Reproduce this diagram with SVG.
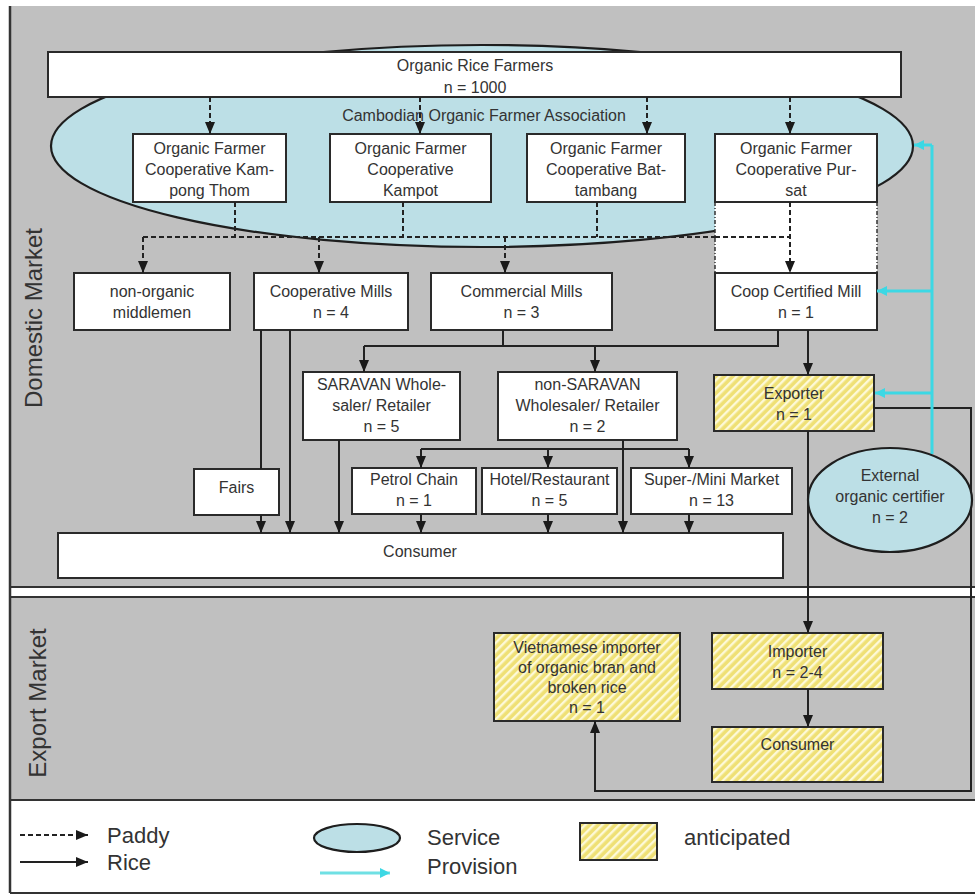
<svg xmlns="http://www.w3.org/2000/svg" width="978" height="895" viewBox="0 0 978 895">
<style>
.bg{fill:#c0c0c0}
.box{fill:#fff;stroke:#2a2a2a;stroke-width:2}
.hat{fill:url(#hatch);stroke:#2a2a2a;stroke-width:2}
.ell{fill:#bcdfe6;stroke:#1e1e1e;stroke-width:2.2}
.t{font-family:"Liberation Sans",Arial,sans-serif;font-size:16px;fill:#333;text-anchor:middle}
.lg{font-family:"Liberation Sans",Arial,sans-serif;font-size:22px;fill:#333}
.side{font-family:"Liberation Sans",Arial,sans-serif;font-size:24px;fill:#333;text-anchor:middle}
.dash{stroke:#222;stroke-width:2;stroke-dasharray:5 3;fill:none}
.sol{stroke:#222;stroke-width:2;fill:none}
.cy{stroke:#3cd8e4;stroke-width:3;fill:none}
.dl{stroke:#333;stroke-width:2;fill:none}
</style>
<defs>
<marker id="ah" viewBox="0 0 10 10" refX="10" refY="5" markerUnits="userSpaceOnUse" markerWidth="12" markerHeight="10" orient="auto" preserveAspectRatio="none">
<path d="M0,0 L10,5 L0,10 z" fill="#1a1a1a"/>
</marker>
<marker id="ach" viewBox="0 0 10 10" refX="10" refY="5" markerUnits="userSpaceOnUse" markerWidth="10" markerHeight="10" orient="auto" preserveAspectRatio="none">
<path d="M0,0 L10,5 L0,10 z" fill="#3cd8e4"/>
</marker>
<pattern id="hatch" patternUnits="userSpaceOnUse" width="6" height="6" patternTransform="rotate(45)">
<rect width="6" height="6" fill="#efe075"/>
<rect width="2.4" height="6" fill="#fdf9d8"/>
</pattern>
</defs>

<g id="background">
<rect class="bg" x="10" y="6" width="965" height="581"/>
<rect x="10" y="588" width="965" height="9" fill="#fff"/>
<rect class="bg" x="10" y="597" width="965" height="203"/>
<rect x="10" y="800" width="965" height="93" fill="#fff"/>
<line class="dl" x1="10" y1="587" x2="975" y2="587"/>
<line class="dl" x1="10" y1="597" x2="975" y2="597"/>
<line class="dl" x1="10" y1="800" x2="975" y2="800"/>
<line class="dl" x1="10" y1="893" x2="975" y2="893"/>
<line x1="10" y1="6" x2="10" y2="893" stroke="#333" stroke-width="2.5"/>
<text class="side" transform="translate(42,318) rotate(-90)">Domestic Market</text>
<text class="side" transform="translate(46,703) rotate(-90)">Export Market</text>
</g>

<g id="association">
<ellipse class="ell" cx="482" cy="146" rx="431" ry="101"/>
<text class="t" x="484" y="121">Cambodian Organic Farmer Association</text>
</g>

<g id="pursat-area">
<rect x="715" y="202" width="162" height="71" fill="#fff"/>
<line x1="715" y1="202" x2="715" y2="273" stroke="#333" stroke-width="1.5" stroke-dasharray="4 2 1 2"/>
<line x1="877" y1="202" x2="877" y2="273" stroke="#333" stroke-width="1.5" stroke-dasharray="4 2 1 2"/>
</g>

<g id="farmers">
<rect class="box" x="48" y="52" width="853" height="45"/>
<text class="t" x="475" y="71">Organic Rice Farmers</text>
<text class="t" x="475" y="93">n = 1000</text>
</g>

<g id="coop-kampongthom">
<rect class="box" x="133" y="134" width="153" height="68"/>
<text class="t" x="209.5" y="154">Organic Farmer</text>
<text class="t" x="209.5" y="175">Cooperative Kam-</text>
<text class="t" x="209.5" y="196">pong Thom</text>
</g>
<g id="coop-kampot">
<rect class="box" x="330" y="134" width="161" height="68"/>
<text class="t" x="410.5" y="154">Organic Farmer</text>
<text class="t" x="410.5" y="175">Cooperative</text>
<text class="t" x="410.5" y="196">Kampot</text>
</g>
<g id="coop-battambang">
<rect class="box" x="527" y="134" width="158" height="68"/>
<text class="t" x="606" y="154">Organic Farmer</text>
<text class="t" x="606" y="175">Cooperative Bat-</text>
<text class="t" x="606" y="196">tambang</text>
</g>
<g id="coop-pursat">
<rect class="box" x="715" y="134" width="162" height="68"/>
<text class="t" x="796" y="154">Organic Farmer</text>
<text class="t" x="796" y="175">Cooperative Pur-</text>
<text class="t" x="796" y="196">sat</text>
</g>

<g id="middlemen">
<rect class="box" x="74" y="273" width="156" height="57"/>
<text class="t" x="152" y="297">non-organic</text>
<text class="t" x="152" y="318">middlemen</text>
</g>
<g id="coop-mills">
<rect class="box" x="254" y="273" width="154" height="57"/>
<text class="t" x="331" y="297">Cooperative Mills</text>
<text class="t" x="331" y="318">n = 4</text>
</g>
<g id="commercial-mills">
<rect class="box" x="431" y="273" width="181" height="57"/>
<text class="t" x="521.5" y="297">Commercial Mills</text>
<text class="t" x="521.5" y="318">n = 3</text>
</g>
<g id="certified-mill">
<rect class="box" x="715" y="273" width="162" height="57"/>
<text class="t" x="796" y="297">Coop Certified Mill</text>
<text class="t" x="796" y="318">n = 1</text>
</g>

<g id="saravan">
<rect class="box" x="303" y="372" width="157" height="68"/>
<text class="t" x="381.5" y="390">SARAVAN Whole-</text>
<text class="t" x="381.5" y="411">saler/ Retailer</text>
<text class="t" x="381.5" y="432">n = 5</text>
</g>
<g id="non-saravan">
<rect class="box" x="498" y="372" width="179" height="68"/>
<text class="t" x="587.5" y="390">non-SARAVAN</text>
<text class="t" x="587.5" y="411">Wholesaler/ Retailer</text>
<text class="t" x="587.5" y="432">n = 2</text>
</g>
<g id="exporter">
<rect class="hat" x="714" y="375" width="160" height="56"/>
<text class="t" x="794" y="399">Exporter</text>
<text class="t" x="794" y="420">n = 1</text>
</g>

<g id="fairs">
<rect class="box" x="194" y="469" width="85" height="46"/>
<text class="t" x="236.5" y="493">Fairs</text>
</g>
<g id="petrol">
<rect class="box" x="352" y="468" width="124" height="46"/>
<text class="t" x="414" y="485">Petrol Chain</text>
<text class="t" x="414" y="506">n = 1</text>
</g>
<g id="hotel">
<rect class="box" x="482" y="468" width="135" height="46"/>
<text class="t" x="549.5" y="485">Hotel/Restaurant</text>
<text class="t" x="549.5" y="506">n = 5</text>
</g>
<g id="market">
<rect class="box" x="631" y="468" width="161" height="46"/>
<text class="t" x="711.5" y="485">Super-/Mini Market</text>
<text class="t" x="711.5" y="506">n = 13</text>
</g>

<g id="consumer-domestic">
<rect class="box" x="58" y="533" width="725" height="45"/>
<text class="t" x="420" y="557">Consumer</text>
</g>

<g id="vietnamese-importer">
<rect class="hat" x="494" y="633" width="186" height="88"/>
<text class="t" x="587" y="653">Vietnamese importer</text>
<text class="t" x="587" y="673">of organic bran and</text>
<text class="t" x="587" y="693">broken rice</text>
<text class="t" x="587" y="713">n = 1</text>
</g>
<g id="importer">
<rect class="hat" x="712" y="633" width="171" height="56"/>
<text class="t" x="797.5" y="657">Importer</text>
<text class="t" x="797.5" y="678">n = 2-4</text>
</g>
<g id="consumer-export">
<rect class="hat" x="712" y="727" width="171" height="55"/>
<text class="t" x="797.5" y="750">Consumer</text>
</g>

<g id="connectors">
<line class="dash" x1="210" y1="97" x2="210" y2="134" marker-end="url(#ah)"/>
<line class="dash" x1="420" y1="97" x2="420" y2="134" marker-end="url(#ah)"/>
<line class="dash" x1="647" y1="97" x2="647" y2="134" marker-end="url(#ah)"/>
<line class="dash" x1="790" y1="97" x2="790" y2="134" marker-end="url(#ah)"/>
<line class="dash" x1="235" y1="202" x2="235" y2="237"/>
<line class="dash" x1="403" y1="202" x2="403" y2="237"/>
<line class="dash" x1="597" y1="202" x2="597" y2="237"/>
<line class="dash" x1="143" y1="237" x2="715" y2="237"/>
<line class="dash" x1="715" y1="237" x2="790" y2="237"/>
<line class="dash" x1="143" y1="237" x2="143" y2="273" marker-end="url(#ah)"/>
<line class="dash" x1="319" y1="237" x2="319" y2="273" marker-end="url(#ah)"/>
<line class="dash" x1="505" y1="237" x2="505" y2="273" marker-end="url(#ah)"/>
<line class="dash" x1="790" y1="202" x2="790" y2="273" marker-end="url(#ah)"/>

<path class="sol" d="M503,330 V346"/>
<path class="sol" d="M778,330 V346 H364"/>
<line class="sol" x1="364" y1="346" x2="364" y2="372" marker-end="url(#ah)"/>
<line class="sol" x1="595" y1="346" x2="595" y2="372" marker-end="url(#ah)"/>
<line class="sol" x1="808" y1="330" x2="808" y2="375" marker-end="url(#ah)"/>
<line class="sol" x1="261" y1="330" x2="261" y2="469"/>
<line class="sol" x1="261" y1="515" x2="261" y2="533" marker-end="url(#ah)"/>
<line class="sol" x1="290" y1="330" x2="290" y2="533" marker-end="url(#ah)"/>
<line class="sol" x1="339" y1="440" x2="339" y2="533" marker-end="url(#ah)"/>
<line class="sol" x1="623" y1="440" x2="623" y2="533" marker-end="url(#ah)"/>
<line class="sol" x1="421" y1="449" x2="689" y2="449"/>
<line class="sol" x1="421" y1="449" x2="421" y2="468" marker-end="url(#ah)"/>
<line class="sol" x1="548" y1="449" x2="548" y2="468" marker-end="url(#ah)"/>
<line class="sol" x1="689" y1="449" x2="689" y2="468" marker-end="url(#ah)"/>
<line class="sol" x1="421" y1="514" x2="421" y2="533" marker-end="url(#ah)"/>
<line class="sol" x1="548" y1="514" x2="548" y2="533" marker-end="url(#ah)"/>
<line class="sol" x1="689" y1="514" x2="689" y2="533" marker-end="url(#ah)"/>
<line class="sol" x1="808" y1="431" x2="808" y2="633" marker-end="url(#ah)"/>
<path class="sol" d="M874,408 H971 V791 H595 V721" marker-end="url(#ah)"/>
<line class="sol" x1="808" y1="689" x2="808" y2="727" marker-end="url(#ah)"/>

<line class="cy" x1="932" y1="145" x2="932" y2="454"/>
<line class="cy" x1="932" y1="145" x2="914" y2="145" marker-end="url(#ach)"/>
<line class="cy" x1="932" y1="291" x2="877" y2="291" marker-end="url(#ach)"/>
<line class="cy" x1="932" y1="393" x2="875" y2="393" marker-end="url(#ach)"/>
</g>

<g id="certifier">
<ellipse class="ell" cx="890" cy="500" rx="82" ry="52"/>
<text class="t" x="890" y="481">External</text>
<text class="t" x="890" y="502">organic certifier</text>
<text class="t" x="890" y="523">n = 2</text>
</g>

<g id="legend">
<line class="dash" x1="20" y1="835" x2="88" y2="835" marker-end="url(#ah)"/>
<text class="lg" x="107" y="843">Paddy</text>
<line class="sol" x1="20" y1="862" x2="88" y2="862" stroke-width="2.5" marker-end="url(#ah)"/>
<text class="lg" x="107" y="870">Rice</text>
<ellipse class="ell" cx="357" cy="838" rx="43" ry="14"/>
<line x1="320" y1="873" x2="390" y2="873" stroke="#6fe0e4" stroke-width="3" marker-end="url(#ach)"/>
<text class="lg" x="427" y="845">Service</text>
<text class="lg" x="427" y="874">Provision</text>
<rect class="hat" x="580" y="823" width="77" height="37"/>
<text class="lg" x="684" y="845">anticipated</text>
</g>
</svg>
